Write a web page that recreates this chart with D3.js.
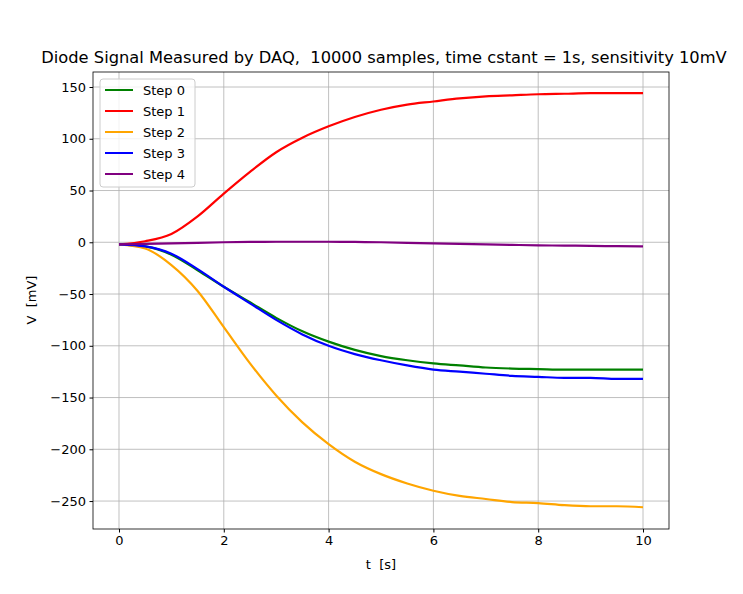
<!DOCTYPE html><html><head><script src="https://cdn.jsdelivr.net/npm/d3@7"></script>
<style>body{margin:0;background:#fff}text{font-family:"DejaVu Sans",sans-serif}</style></head><body>
<svg id="c" width="743" height="594"></svg>
<script>
const t=[0,0.5,1,1.5,2,2.5,3,3.5,4,4.5,5,5.5,6,6.5,7,7.5,8,8.5,9,9.5,10];
const step0=[-2,-4,-12,-27,-43,-58,-73,-86,-96,-104,-110,-114,-117,-119,-121,-122,-122.5,-123,-123,-123,-123];
const step1=[-2,1,8,25,47,68,87,101,112,121,128,133,136,139,141,142,143,143.5,144,144,144];
const step2=[-2,-6,-22,-47,-82,-117,-148,-174,-195,-212,-224,-233,-240,-245,-248,-251,-252,-254,-255,-255,-256];
const step3=[-2,-4,-11,-26,-43,-59,-75,-89,-100,-108,-114,-119,-123,-125,-127,-129,-130,-131,-131,-132,-132];
const step4=[-2,-1.5,-1,-0.5,0,0.3,0.5,0.5,0.5,0.3,0,-0.5,-1,-1.5,-2,-2.5,-3,-3.2,-3.5,-3.8,-4];
const names=["Step 0","Step 1","Step 2","Step 3","Step 4"];
const colors=["green","red","orange","blue","purple"];
const series=[step0,step1,step2,step3,step4];
const xTicks=[0,2,4,6,8,10], yTicks=[150,100,50,0,-50,-100,-150,-200,-250];
const svg=d3.select("#c");
const L=93,R=669,T=72,B=529;
const x=d3.scaleLinear().domain([-0.496,10.496]).range([L,R]);
const y=d3.scaleLinear().domain([-277,164.5]).range([B,T]);
const g=svg.append("g");
g.selectAll(".gx").data(xTicks).join("line").attr("x1",d=>x(d)).attr("x2",d=>x(d)).attr("y1",T).attr("y2",B).attr("stroke","#b0b0b0").attr("stroke-width",0.8);
g.selectAll(".gy").data(yTicks).join("line").attr("y1",d=>y(d)).attr("y2",d=>y(d)).attr("x1",L).attr("x2",R).attr("stroke","#b0b0b0").attr("stroke-width",0.8);
const line=d3.line().curve(d3.curveMonotoneX);
series.forEach((s,i)=>svg.append("path").attr("d",line(s.map((v,j)=>[x(t[j]),y(v)]))).attr("fill","none").attr("stroke",colors[i]).attr("stroke-width",2.2));
const xa=svg.append("g").attr("transform",`translate(0,${B})`).call(d3.axisBottom(x).tickValues(xTicks).tickSize(3.5).tickPadding(3.5));
const ya=svg.append("g").attr("transform",`translate(${L},0)`).call(d3.axisLeft(y).tickValues(yTicks).tickSize(3.5).tickPadding(3.5).tickFormat(d=>d<0?"\u2212"+(-d):d));
[xa,ya].forEach(a=>{a.select(".domain").remove();a.selectAll("text").attr("font-size",13).attr("fill","#000").attr("font-family","DejaVu Sans");});
svg.append("rect").attr("x",L).attr("y",T).attr("width",R-L).attr("height",B-T).attr("fill","none").attr("stroke","#000").attr("stroke-width",0.8);
svg.append("text").attr("x",384).attr("y",63).attr("text-anchor","middle").attr("font-size",16.3).attr("xml:space","preserve").text("Diode Signal Measured by DAQ,  10000 samples, time cstant = 1s, sensitivity 10mV");
svg.append("text").attr("x",381).attr("y",569).attr("text-anchor","middle").attr("font-size",13).attr("xml:space","preserve").text("t  [s]");
svg.append("text").attr("transform","translate(36,300) rotate(-90)").attr("text-anchor","middle").attr("font-size",13).attr("xml:space","preserve").text("V  [mV]");
const lg=svg.append("g");
lg.append("rect").attr("x",100).attr("y",79).attr("width",95).attr("height",108).attr("rx",3).attr("fill","#fff").attr("fill-opacity",0.8).attr("stroke","#ccc");
names.forEach((n,i)=>{const yy=90+i*21;
lg.append("line").attr("x1",105).attr("x2",133).attr("y1",yy).attr("y2",yy).attr("stroke",colors[i]).attr("stroke-width",2);
lg.append("text").attr("x",143).attr("y",yy+4.5).attr("font-size",13).text(n);});
</script></body></html>
